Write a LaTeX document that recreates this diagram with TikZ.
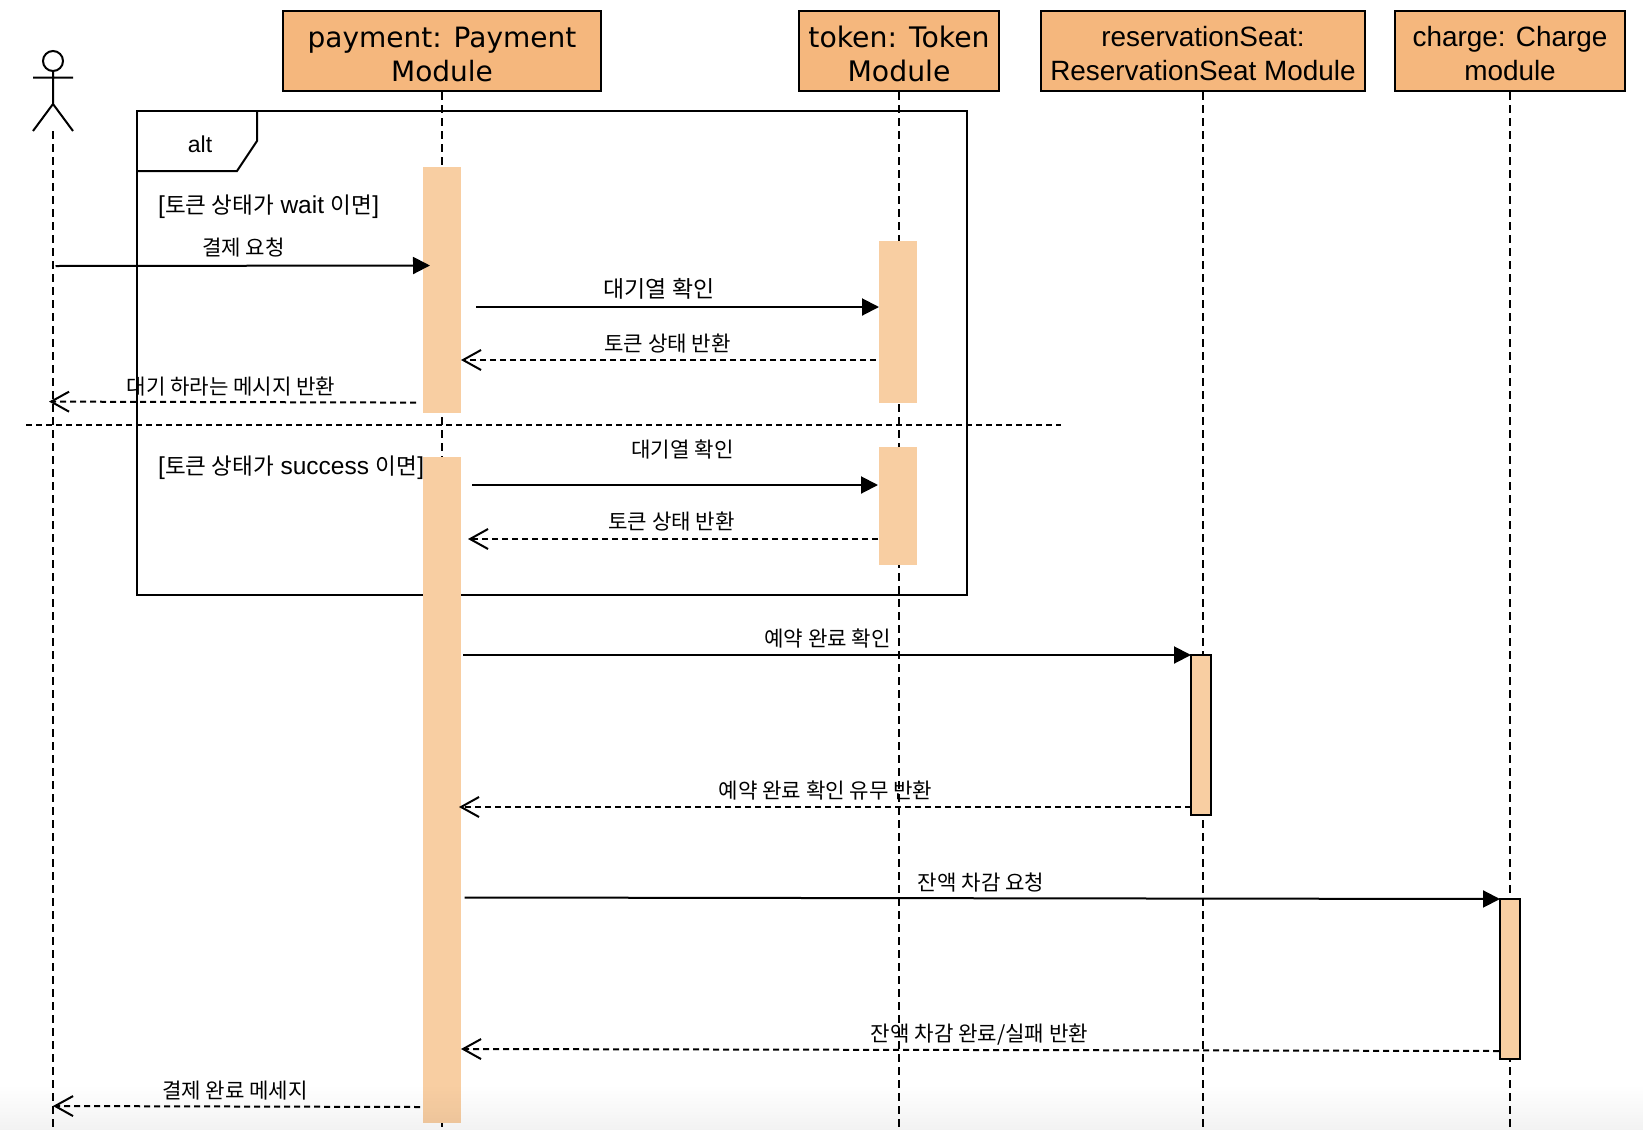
\documentclass[tikz,border=0pt]{standalone}
\usepackage{fontspec}
\setmainfont{Liberation Sans}
\newfontfamily\cjk{Noto Sans CJK KR}[Scale=0.92]
\newfontfamily\hdr{DejaVu Sans}
\newcommand{\K}[1]{{\cjk #1}}
\usetikzlibrary{arrows.meta,fadings}
\definecolor{hdrfill}{HTML}{F5B77D}
\definecolor{actfill}{HTML}{F8CEA2}
\tikzset{
  x=1pt,y=-1pt,
  line/.style={line width=2pt,black},
  life/.style={line width=1.9pt,black,dash pattern=on 8pt off 5pt},
  head/.style={draw=black,line width=2.2pt,fill=hdrfill,inner sep=0pt},
  hlab/.style={inner sep=0pt,align=center,text=black,yshift=-3pt},
  act/.style={fill=actfill,inner sep=0pt},
  actb/.style={fill=actfill,draw=black,line width=2.2pt,inner sep=0pt},
  call/.style={line width=2pt,black,-{Triangle[length=17pt,width=17pt]}},
  ret/.style={line width=2pt,black,dash pattern=on 6pt off 4pt,-{Straight Barb[length=18pt,width=20pt,line width=2pt]}},
  lab/.style={inner sep=0pt,yshift=-1pt,font=\fontsize{23}{25}\selectfont,text=black},
  cond/.style={inner sep=0pt,yshift=-2pt,anchor=west,font=\fontsize{24.5}{26}\selectfont,text=black},
}
\begin{document}
\begin{tikzpicture}
\useasboundingbox (0,0) rectangle (1644,1130);
\fill[white] (0,0) rectangle (1644,1130);
% lifeline ends
\coordinate (endA) at (53,1130);
\coordinate (endP) at (442,1130);
\coordinate (endT) at (899,1130);
\coordinate (endR) at (1203,1130);
\coordinate (endC) at (1510,1130);
% headers
\node[head,minimum width=318pt,minimum height=80pt,label={[hlab,font=\hdr\fontsize{28}{34}\selectfont]center:{payment: Payment\\Module}}] (payment) at (442,51) {};
\node[head,minimum width=200.6pt,minimum height=80pt,label={[hlab,font=\hdr\fontsize{28.3}{34}\selectfont]center:{token: Token\\Module}}] (token) at (899,51) {};
\node[head,minimum width=324pt,minimum height=80pt,label={[hlab,font=\fontsize{27.9}{34}\selectfont]center:{reservationSeat:\\ReservationSeat Module}}] (reservation) at (1203,51) {};
\node[head,minimum width=230.5pt,minimum height=80pt,label={[hlab,font=\fontsize{27.9}{34}\selectfont]center:{charge: Charge\\module}}] (charge) at (1510,51) {};
% actor
\node[draw=black,line width=2pt,circle,minimum size=20pt,inner sep=0pt] (actorhead) at (53,61) {};
\coordinate (armL) at (33,77.7);
\coordinate (armR) at (73,77.7);
\coordinate (hip) at (53,104);
\coordinate (legL) at (33,131);
\coordinate (legR) at (73,131);
\coordinate (actorfoot) at (53,131);
\draw[line] (actorhead.south) -- (hip) (armL) -- (armR) (legL) -- (hip) -- (legR);
% lifelines
\draw[life] (actorfoot) -- (endA);
\draw[life] (payment.south) -- (endP);
\draw[life] (token.south) -- (endT);
\draw[life] (reservation.south) -- (endR);
\draw[life] (charge.south) -- (endC);
% alt frame
\coordinate (fTL) at (137,111);
\coordinate (fTR) at (967,111);
\coordinate (fBR) at (967,595);
\coordinate (fBL) at (137,595);
\coordinate (tabT) at (257,111);
\coordinate (tabM) at (257,141);
\coordinate (tabD) at (237,171);
\coordinate (tabL) at (137,171);
\draw[line] (fTL) -- (fTR) -- (fBR) -- (fBL) -- cycle;
\draw[line] (tabT) -- (tabM) -- (tabD) -- (tabL);
\node[lab] (alt) at (200,143) {alt};
% divider
\coordinate (divL) at (26,425);
\coordinate (divR) at (1061,425);
\draw[line width=1.9pt,black,dash pattern=on 6pt off 4pt] (divL) -- (divR);
% activations
\node[act,minimum width=38pt,minimum height=246pt] (p1) at (442,290) {};
\node[act,minimum width=38pt,minimum height=666pt] (p2) at (442,790) {};
\node[act,minimum width=38pt,minimum height=162pt] (t1) at (898,322) {};
\node[act,minimum width=38pt,minimum height=118pt] (t2) at (898,506) {};
\node[actb,minimum width=20pt,minimum height=160pt] (r1) at (1201,735) {};
\node[actb,minimum width=20pt,minimum height=160pt] (c1) at (1510,979) {};
% condition labels
\node[cond] (c1lab) at (158,205) {[\K{토큰 상태가} wait \K{이면}]};
\node[cond] (c2lab) at (158,466) {[\K{토큰 상태가} success \K{이면}]};
% arrow ends
\coordinate (a1s) at (55.5,266);   \coordinate (a1e) at (430,265.5);
\coordinate (a2s) at (476,307);  \coordinate (a2e) at (879,307);
\coordinate (a3s) at (876,360);  \coordinate (a3e) at (461,360);
\coordinate (a4s) at (416,402.6);\coordinate (a4e) at (49,401.6);
\coordinate (a5s) at (472,485);  \coordinate (a5e) at (878,485);
\coordinate (a6s) at (878,539);  \coordinate (a6e) at (468,539);
\coordinate (a7s) at (463,655);  \coordinate (a7e) at (1191,655);
\coordinate (a8s) at (1191,807); \coordinate (a8e) at (459,807);
\coordinate (a9s) at (464.5,897.5); \coordinate (a9e) at (1500,899);
\coordinate (a10s) at (1499,1051); \coordinate (a10e) at (461,1049);
\coordinate (a11s) at (420,1107); \coordinate (a11e) at (53,1106);
\draw[call] (a1s) -- (a1e);
\draw[call] (a2s) -- (a2e);
\draw[ret] (a3s) -- (a3e);
\draw[ret] (a4s) -- (a4e);
\draw[call] (a5s) -- (a5e);
\draw[ret] (a6s) -- (a6e);
\draw[call] (a7s) -- (a7e);
\draw[ret] (a8s) -- (a8e);
\draw[call] (a9s) -- (a9e);
\draw[ret] (a10s) -- (a10e);
\draw[ret] (a11s) -- (a11e);
% arrow labels
\node[lab] (l1) at (243.5,247) {\K{결제 요청}};
\node[lab,font=\fontsize{24.9}{27}\selectfont] (l2) at (659,288) {\K{대기열 확인}};
\node[lab] (l3) at (667.5,343) {\K{토큰 상태 반환}};
\node[lab] (l4) at (231,386) {\K{대기 하라는 메시지 반환}};
\node[lab] (l5) at (682.5,448) {\K{대기열 확인}};
\node[lab] (l6) at (671.5,521) {\K{토큰 상태 반환}};
\node[lab] (l7) at (827.5,637) {\K{예약 완료 확인}};
\node[lab] (l8) at (825.5,789.5) {\K{예약 완료 확인 유무 반환}};
\node[lab] (l9) at (981,882) {\K{잔액 차감 요청}};
\node[lab] (l10) at (979.5,1034) {\K{잔액 차감 완료/실패 반환}};
\node[lab] (l11) at (235,1090) {\K{결제 완료 메세지}};
% faint shadow along the bottom edge
\fill[black,fill opacity=0.05,path fading=north] (0,1085) rectangle (1644,1130);
\end{tikzpicture}
\end{document}
